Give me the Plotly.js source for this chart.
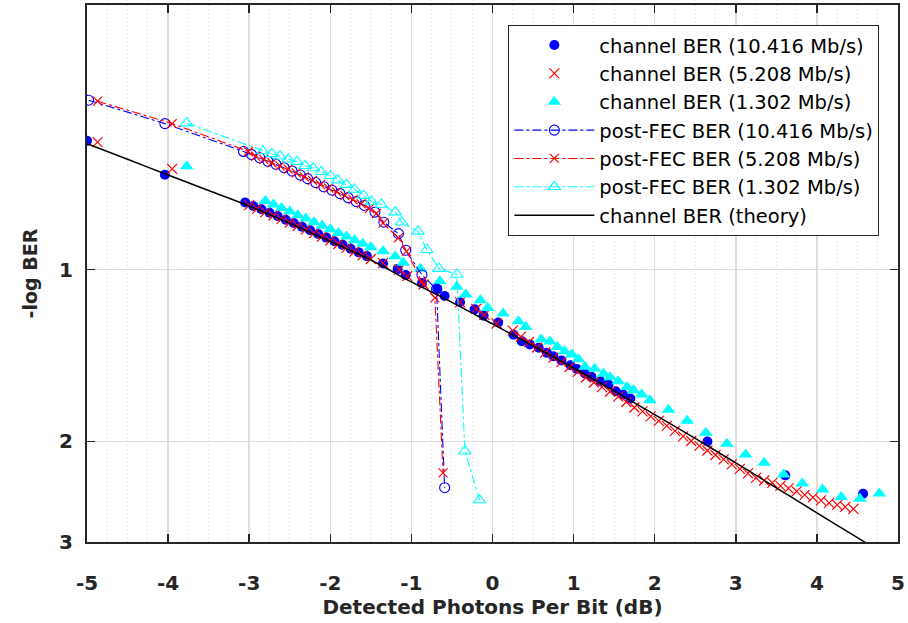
<!DOCTYPE html>
<html>
<head>
<meta charset="utf-8">
<script src="https://cdn.plot.ly/plotly-3.0.1.min.js"></script>
<style>html,body{margin:0;padding:0;background:#fff;}#chart{width:908px;height:623px;}</style>
</head>
<body>
<div id="chart"></div>
<script>
// ---- channel BER (10.416 Mb/s) ----
const chan10X = [-5.0, -4.04,
  -3.05, -2.95, -2.85, -2.75, -2.65, -2.55, -2.45, -2.35, -2.25, -2.15, -2.05, -1.95, -1.85, -1.75, -1.65, -1.55,
  -1.35, -1.17, -1.07, -0.87, -0.68, -0.59, -0.40, -0.22, -0.11, 0.07,
  0.26, 0.36, 0.46, 0.57, 0.67, 0.75, 0.85, 0.96, 1.04, 1.14, 1.22, 1.33, 1.43, 1.52, 1.61, 1.70,
  2.65, 3.61, 4.57];
const chan10Y = [0.595, 0.682,
  0.763, 0.774, 0.784, 0.795, 0.806, 0.818, 0.829, 0.841, 0.853, 0.866, 0.879, 0.892, 0.905, 0.919, 0.933, 0.947,
  0.976, 0.998, 1.022, 1.056, 1.081, 1.112, 1.141, 1.174, 1.204, 1.238,
  1.300, 1.335, 1.353, 1.371, 1.399, 1.418, 1.443, 1.471, 1.493, 1.520, 1.541, 1.569, 1.590, 1.633, 1.655, 1.682,
  2.000, 2.293, 2.470];

// ---- channel BER (5.208 Mb/s) ----
const chan5X = [-4.87, -3.95,
  -3.0, -2.9, -2.8, -2.7, -2.6, -2.5, -2.4, -2.3, -2.2, -2.1, -2.0, -1.9, -1.8, -1.7, -1.6, -1.5,
  -1.35, -1.15, -1.05, -0.85, -0.40, -0.20, -0.10,
  0.05, 0.25, 0.35, 0.45, 0.55, 0.65, 0.75, 0.85, 0.95, 1.05, 1.15, 1.25, 1.35, 1.45, 1.55, 1.65, 1.75, 1.85, 1.95,
  2.05, 2.15, 2.25, 2.35, 2.45, 2.55, 2.65, 2.75, 2.85, 2.95, 3.05, 3.15, 3.25, 3.35, 3.45, 3.55, 3.65, 3.75, 3.85,
  3.95, 4.05, 4.15, 4.25, 4.35, 4.45];
const chan5Y = [0.598, 0.666,
  0.771, 0.782, 0.793, 0.804, 0.815, 0.827, 0.838, 0.850, 0.863, 0.875, 0.889, 0.902, 0.916, 0.930, 0.944, 0.958,
  0.974, 1.000, 1.027, 1.062, 1.141, 1.172, 1.200,
  1.243, 1.279, 1.310, 1.339, 1.369, 1.397, 1.426, 1.452, 1.481, 1.511, 1.545, 1.577, 1.606, 1.635, 1.669, 1.706, 1.744, 1.772, 1.808,
  1.841, 1.878, 1.917, 1.960, 1.996, 2.036, 2.074, 2.112, 2.150, 2.194, 2.234, 2.275, 2.317, 2.341, 2.364, 2.393, 2.417, 2.446, 2.481,
  2.506, 2.537, 2.562, 2.583, 2.604, 2.625];

// ---- channel BER (1.302 Mb/s) ----
const chan1X = [-3.77,
  -2.8, -2.7, -2.6, -2.5, -2.4, -2.3, -2.2, -2.1, -2.0, -1.9, -1.8, -1.7, -1.6, -1.5,
  -1.35, -1.20, -1.10, -0.89, -0.65, -0.44, -0.33, -0.15, -0.06, 0.13, 0.32, 0.41, 0.60, 0.71, 0.80, 0.89, 0.98,
  1.06, 1.14, 1.26, 1.37, 1.45, 1.55, 1.66, 1.74, 1.84, 1.94, 2.17, 2.40, 2.63, 2.89, 3.12, 3.35, 3.59, 3.82,
  4.07, 4.30, 4.53, 4.77];
const chan1Y = [0.659,
  0.758, 0.769, 0.780, 0.791, 0.803, 0.814, 0.826, 0.838, 0.850, 0.863, 0.875, 0.888, 0.901, 0.914,
  0.929, 0.948, 0.973, 0.997, 1.048, 1.072, 1.106, 1.132, 1.167, 1.194, 1.232, 1.261, 1.324, 1.337, 1.366, 1.390, 1.409,
  1.435, 1.479, 1.492, 1.522, 1.543, 1.569, 1.605, 1.626, 1.655, 1.693, 1.760, 1.839, 1.931, 2.018, 2.108, 2.180, 2.285, 2.369,
  2.427, 2.503, 2.519, 2.466];

// ---- post-FEC BER (10.416 Mb/s) ----
const fec10X = [-4.98, -4.04, -3.07, -2.97, -2.87, -2.77, -2.67, -2.57, -2.47, -2.37, -2.28, -2.18, -2.08, -1.98,
  -1.88, -1.78, -1.68, -1.58, -1.45, -1.34, -1.16, -1.07, -0.87, -0.69, -0.59];
const fec10Y = [0.505, 0.555, 0.621, 0.629, 0.637, 0.646, 0.654, 0.663, 0.672, 0.683, 0.693, 0.704, 0.716, 0.726,
  0.736, 0.748, 0.760, 0.772, 0.793, 0.826, 0.865, 0.925, 1.022, 1.082, 2.410];

// ---- post-FEC BER (5.208 Mb/s) ----
const fec5X = [-4.87, -3.95, -3.01, -2.92, -2.82, -2.72, -2.62, -2.52, -2.42, -2.32, -2.22, -2.12, -2.02, -1.92,
  -1.82, -1.72, -1.62, -1.52, -1.43, -1.35, -1.16, -1.06, -0.87, -0.71, -0.61];
const fec5Y = [0.507, 0.555, 0.621, 0.633, 0.641, 0.650, 0.658, 0.667, 0.677, 0.688, 0.698, 0.710, 0.720, 0.731,
  0.742, 0.754, 0.767, 0.782, 0.797, 0.829, 0.880, 0.929, 1.050, 1.121, 2.270];

// ---- post-FEC BER (1.302 Mb/s) ----
const fec1X = [-3.77, -2.83, -2.72, -2.62, -2.52, -2.41, -2.31, -2.21, -2.11, -2.00, -1.91, -1.80, -1.70, -1.59,
  -1.49, -1.37, -1.20, -1.12, -0.92, -0.81, -0.66, -0.44, -0.34, -0.16];
const fec1Y = [0.554, 0.620, 0.627, 0.633, 0.641, 0.647, 0.658, 0.664, 0.674, 0.685, 0.697, 0.710, 0.724, 0.742,
  0.760, 0.769, 0.793, 0.826, 0.857, 0.923, 0.996, 1.020, 2.080, 2.533];

// ---- channel BER (theory) ----
const theoryX = [-5, -4.5, -4, -3.5, -3, -2.5, -2, -1.5, -1, -0.5, 0, 0.5, 1, 1.5, 2, 2.5, 3, 3.5, 4, 4.5, 4.6];
const theoryY = [0.602, 0.641, 0.683, 0.727, 0.774, 0.830, 0.893, 0.962, 1.051, 1.141, 1.245, 1.360, 1.487, 1.631,
  1.795, 1.976, 2.181, 2.411, 2.667, 2.948, 3.008];

const xTickVals = [-5, -4, -3, -2, -1, 0, 1, 2, 3, 4, 5];
const xTickText = ['-5', '-4', '-3', '-2', '-1', '0', '1', '2', '3', '4', '5'];
const yTickVals = [1, 2, 3];
const yTickText = ['1', '2', '3'];

const names = ['channel BER (10.416 Mb/s)', 'channel BER (5.208 Mb/s)', 'channel BER (1.302 Mb/s)',
  'post-FEC BER (10.416 Mb/s)', 'post-FEC BER (5.208 Mb/s)', 'post-FEC BER (1.302 Mb/s)', 'channel BER (theory)'];

const BLUE = 'rgb(0,0,255)', RED = 'rgb(255,0,0)', CYAN = 'rgb(0,255,255)';
const FONT = 'DejaVu Sans, Liberation Sans, Arial, sans-serif';
const AX = 'rgb(38,38,38)';

const traces = [
  {x: chan10X, y: chan10Y, name: names[0], mode: 'markers', type: 'scatter',
   marker: {symbol: 'circle', size: 10, color: BLUE}},
  {x: chan5X, y: chan5Y, name: names[1], mode: 'markers', type: 'scatter',
   marker: {symbol: 'x-thin-open', size: 10, color: RED, line: {color: RED, width: 1.2}}},
  {x: chan1X, y: chan1Y, name: names[2], mode: 'markers', type: 'scatter',
   marker: {symbol: 'triangle-up', size: 12, color: CYAN}},
  {x: fec10X, y: fec10Y, name: names[3], mode: 'lines+markers', type: 'scatter',
   line: {color: BLUE, width: 1.1, dash: 'dashdot'},
   marker: {symbol: 'circle-open', size: 10, color: BLUE, line: {color: BLUE, width: 1.1}}},
  {x: fec5X, y: fec5Y, name: names[4], mode: 'lines+markers', type: 'scatter',
   line: {color: RED, width: 1.1, dash: 'dashdot'},
   marker: {symbol: 'x-thin-open', size: 9, color: RED, line: {color: RED, width: 1.2}}},
  {x: fec1X, y: fec1Y, name: names[5], mode: 'lines+markers', type: 'scatter',
   line: {color: CYAN, width: 1.1, dash: 'dashdot'},
   marker: {symbol: 'triangle-up-open', size: 11, color: CYAN, line: {color: CYAN, width: 1.1}}},
  {x: theoryX, y: theoryY, name: names[6], mode: 'lines', type: 'scatter', line: {color: 'black', width: 1.5, shape: 'spline'}}
];

const layout = {
  width: 908, height: 623,
  margin: {l: 87, r: 10, t: 5, b: 81},
  paper_bgcolor: 'white', plot_bgcolor: 'white',
  showlegend: true,
  font: {family: FONT, color: AX},
  xaxis: {
    range: [-5, 5], tickvals: xTickVals, ticktext: xTickText,
    ticks: 'inside', ticklen: 8, tickwidth: 1.5, tickcolor: AX,
    showline: true, linewidth: 2, linecolor: AX, mirror: 'ticks',
    showgrid: true, gridcolor: 'rgb(222,222,222)', gridwidth: 1.5, zeroline: false,
    minor: {dtick: 0.25, tick0: 0, showgrid: true, gridcolor: 'rgb(212,212,212)', gridwidth: 1, griddash: '1px,3px', ticks: ''},
    tickfont: {family: FONT, size: 20, weight: 'bold', color: AX},
    ticklabelstandoff: 22,
    title: {text: 'Detected Photons Per Bit (dB)', font: {family: FONT, size: 20, weight: 'bold', color: AX}, standoff: 6}
  },
  yaxis: {
    type: 'log', range: [Math.log10(3), Math.log10(0.344)],
    tickvals: yTickVals, ticktext: yTickText,
    ticks: 'inside', ticklen: 8, tickwidth: 1.5, tickcolor: AX,
    showline: true, linewidth: 2, linecolor: AX, mirror: 'ticks',
    showgrid: true, gridcolor: 'rgb(222,222,222)', gridwidth: 1.5, zeroline: false,
    tickfont: {family: FONT, size: 20, weight: 'bold', color: AX},
    ticklabelstandoff: 8,
    title: {text: '-log BER', font: {family: FONT, size: 19, weight: 'bold', color: AX}, standoff: 16}
  },
  legend: {
    x: 0.977, xanchor: 'right', y: 0.963, yanchor: 'top',
    bgcolor: 'white', bordercolor: AX, borderwidth: 1,
    font: {family: FONT, size: 19.5, color: 'black'},
    itemwidth: 80, tracegroupgap: 0
  }
};

Plotly.newPlot('chart', traces, layout, {displayModeBar: false, staticPlot: true});
</script>
</body>
</html>
